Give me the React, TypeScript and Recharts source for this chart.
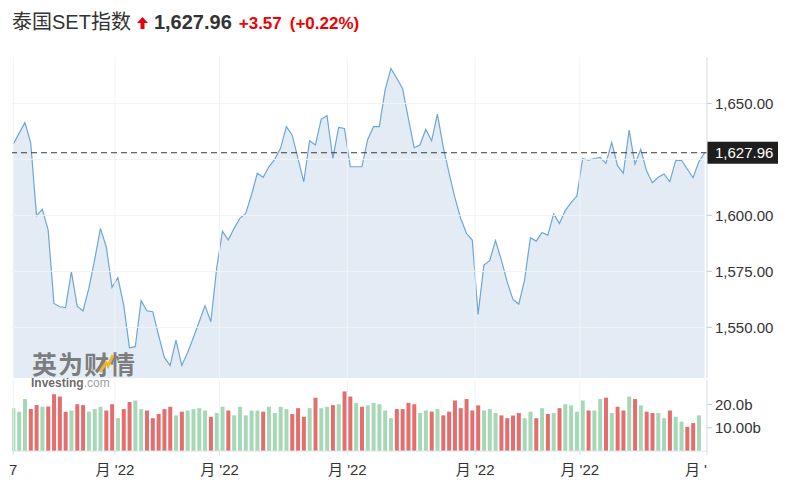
import React from 'react';
import { ComposedChart, Area, XAxis, YAxis, ReferenceLine, BarChart, Bar, Cell } from 'recharts';

const priceValues = [
  1631.8, 1636.6, 1641.4, 1632.4, 1599.9, 1602.7, 1593.5, 1560.7, 1559.2, 1558.8,
  1574.9, 1559.5, 1557.3, 1567.4, 1580.1, 1594.2, 1586.0, 1567.9, 1572.2, 1560.0,
  1540.9, 1541.4, 1561.9, 1557.4, 1557.0, 1546.6, 1536.6, 1533.0, 1544.3, 1533.0,
  1538.7, 1545.5, 1552.5, 1559.7, 1552.5, 1576.3, 1593.0, 1589.0, 1594.2, 1598.7,
  1600.9, 1609.1, 1618.8, 1617.0, 1621.7, 1625.0, 1629.9, 1639.6, 1635.9, 1625.4,
  1615.0, 1633.3, 1631.4, 1643.0, 1644.5, 1625.4, 1639.3, 1638.8, 1621.7, 1621.7,
  1621.7, 1633.9, 1639.6, 1639.6, 1656.0, 1665.6, 1661.2, 1656.7, 1643.3, 1630.2,
  1631.4, 1638.4, 1633.3, 1645.2, 1630.5, 1619.0, 1608.0, 1598.7, 1592.0, 1589.0,
  1555.8, 1577.8, 1579.8, 1588.7, 1580.1, 1570.4, 1562.5, 1560.4, 1571.1, 1590.0,
  1588.5, 1592.4, 1591.2, 1600.6, 1596.4, 1602.1, 1605.7, 1608.6, 1625.4, 1624.7,
  1625.4, 1625.9, 1623.2, 1632.6, 1622.2, 1618.8, 1638.1, 1622.9, 1629.5, 1619.9,
  1614.6, 1617.0, 1618.5, 1615.0, 1624.4, 1624.7, 1620.7, 1616.8, 1624.0, 1627.96,
];

// volume in billions
const volumeValues = [
  18.4, 16.9, 22.3, 18.0, 19.7, 19.0, 19.1, 24.4, 23.4, 16.9,
  17.4, 20.1, 19.7, 16.9, 18.0, 19.0, 17.4, 20.1, 14.1, 18.0,
  21.1, 21.7, 18.0, 17.4, 14.1, 15.9, 18.0, 19.0, 15.3, 16.9,
  17.4, 18.0, 18.4, 17.4, 14.7, 16.3, 19.0, 17.4, 15.3, 19.0,
  15.3, 17.4, 17.4, 16.9, 19.0, 16.3, 19.0, 18.0, 15.9, 18.4,
  14.7, 18.4, 22.9, 18.4, 19.0, 19.7, 20.1, 25.6, 23.4, 20.7,
  19.0, 19.6, 20.7, 20.1, 17.4, 14.1, 18.0, 18.0, 20.7, 20.1,
  16.3, 17.4, 16.9, 18.0, 15.3, 16.9, 21.7, 18.4, 22.3, 17.4,
  19.6, 17.4, 18.0, 16.3, 15.3, 14.1, 15.3, 16.3, 14.1, 16.9,
  14.1, 18.4, 15.9, 16.3, 18.4, 20.1, 19.6, 16.9, 21.7, 17.4,
  17.4, 22.3, 22.9, 16.3, 19.0, 17.4, 23.4, 22.3, 19.6, 16.9,
  16.3, 16.3, 14.1, 17.4, 14.7, 12.6, 10.4, 12.0, 15.3,
];

// 1 = up day (green), 0 = down day (red)
const volumeUp = [
  1, 1, 1, 0, 0, 1, 0, 0, 0, 0,
  1, 0, 0, 1, 1, 1, 0, 0, 1, 0,
  0, 1, 1, 0, 0, 0, 0, 0, 1, 0,
  1, 1, 1, 1, 0, 1, 1, 0, 1, 1,
  1, 1, 1, 0, 1, 1, 1, 1, 0, 0,
  0, 1, 0, 1, 1, 0, 1, 0, 0, 1,
  0, 1, 1, 1, 1, 1, 0, 0, 0, 0,
  1, 1, 0, 1, 0, 0, 0, 0, 0, 0,
  0, 1, 1, 1, 0, 0, 0, 0, 1, 1,
  0, 1, 0, 1, 0, 1, 1, 1, 1, 0,
  1, 1, 0, 1, 0, 0, 1, 0, 1, 0,
  0, 1, 1, 0, 1, 1, 0, 0, 1,
];

const xTicks = [0, 17.5, 35.5, 57.5, 79.5, 97.5, 119.4];
const xTickLabels = ['7', "月 '22", "月 '22", "月 '22", "月 '22", "月 '22", "月 '"];
const xDomain = [-0.22, 119.4];

const priceTicks = [1550, 1575, 1600, 1650];
const priceGrid = [1550, 1575, 1600, 1625, 1650];
const priceDomain = [1527.4, 1670.7];
const lastPrice = 1627.96;

const volumeTicks = [10, 20];
const volumeTickLabels = ['10.00b', '20.0b'];
const volumeDomain = [0, 30.5];

const titleName = '泰国SET指数';
const titlePrice = '1,627.96';
const titleChange = '+3.57';
const titlePct = '(+0.22%)';

const priceData = priceValues.map((p, i) => ({ i, price: p }));
const volumeData = volumeValues.map((v, i) => ({ i, vol: v, up: volumeUp[i] }));

const FONT = '"Liberation Sans", Arial, "Noto Sans CJK SC", sans-serif';
const GRID = '#f1f3f6';
const AXIS = '#dde1e7';
const TXT = '#333333';

const fmtPrice = (v: number) =>
  v.toLocaleString('en-US', { minimumFractionDigits: 2, maximumFractionDigits: 2 });

const PriceTag = (props: any) => {
  const vb = props.viewBox || {};
  const x = vb.x + vb.width;
  const y = vb.y;
  return (
    <g>
      <rect x={x} y={y - 11} width={71} height={22} fill="#1e1e1e" />
      <text x={x + 8} y={y} dy="0.36em" fill="#ffffff" fontSize={15} fontFamily={FONT}>
        {fmtPrice(lastPrice)}
      </text>
    </g>
  );
};

const XTick = (props: any) => {
  const { x, y, payload } = props;
  const idx = xTicks.indexOf(payload.value);
  const last = idx === xTicks.length - 1;
  return (
    <text
      x={last ? x : x}
      y={y}
      dy="0.71em"
      textAnchor={last ? 'end' : 'middle'}
      fill={TXT}
      fontSize={15}
      fontFamily={FONT}
    >
      {xTickLabels[idx]}
    </text>
  );
};

export default function App() {
  return (
    <div style={{ position: 'absolute', left: 0, top: 0, width: 788, height: 493, background: '#fff', fontFamily: FONT }}>
      <div
        style={{
          position: 'absolute',
          left: 12,
          top: 12,
          display: 'flex',
          alignItems: 'baseline',
          whiteSpace: 'nowrap',
          lineHeight: '20px',
        }}
      >
        <span style={{ fontSize: 20, color: TXT }}>{titleName}</span>
        <svg width={11} height={12} viewBox="0 0 11 12" style={{ marginLeft: 6 }}>
          <path d="M5.5 0 L11 6 L7.5 6 L7.5 12 L3.5 12 L3.5 6 L0 6 Z" fill="#e8000b" />
        </svg>
        <span style={{ fontSize: 20, fontWeight: 'bold', color: TXT, marginLeft: 6 }}>{titlePrice}</span>
        <span style={{ fontSize: 17, fontWeight: 'bold', color: '#f00000', marginLeft: 7 }}>{titleChange}</span>
        <span style={{ fontSize: 17, fontWeight: 'bold', color: '#f00000', marginLeft: 8 }}>{titlePct}</span>
      </div>

      <div style={{ position: 'absolute', left: 0, top: 0 }}>
        <ComposedChart width={788} height={380} data={priceData} margin={{ top: 57, right: 0, left: 12, bottom: 2 }}>
          <XAxis
            dataKey="i"
            type="number"
            domain={xDomain}
            allowDataOverflow
            ticks={xTicks}
            height={0}
            tick={false}
            tickLine={false}
            axisLine={{ stroke: '#c8c8c8' }}
          />
          <YAxis
            orientation="right"
            width={81}
            domain={priceDomain}
            allowDataOverflow
            ticks={priceTicks}
            interval={0}
            tickFormatter={fmtPrice}
            tick={{ fill: TXT, fontSize: 15, fontFamily: FONT }}
            tickSize={5}
            tickMargin={3}
            tickLine={{ stroke: '#c8ccd2' }}
            axisLine={{ stroke: AXIS }}
          />
          <Area
            dataKey="price"
            type="linear"
            stroke="#6ea6d6"
            strokeWidth={1.2}
            fill="#e3ecf4"
            fillOpacity={1}
            isAnimationActive={false}
            dot={false}
            activeDot={false}
          />
          {xTicks.map((t) => (
            <ReferenceLine key={'vx' + t} x={t} stroke={GRID} strokeWidth={1} />
          ))}
          {priceGrid.map((t) => (
            <ReferenceLine key={'hy' + t} y={t} stroke={GRID} strokeWidth={1} />
          ))}
          <ReferenceLine
            y={lastPrice}
            stroke="#3a3a3a"
            strokeWidth={1}
            strokeDasharray="6 4"
            label={(p: any) => <PriceTag {...p} />}
          />
        </ComposedChart>
      </div>

      <div style={{ position: 'absolute', left: 32, top: 350, pointerEvents: 'none' }}>
        <div style={{ fontSize: 25, fontWeight: 'bold', color: 'rgba(105,105,105,0.85)', letterSpacing: 1, lineHeight: '26px', fontFamily: '"Noto Sans CJK SC", sans-serif' }}>
          英为财情
        </div>
      </div>
      <svg style={{ position: 'absolute', left: 98, top: 353 }} width={16} height={21}>
        <path d="M2 19 L8 10 L10 13 L15 2" stroke="#f0b429" strokeWidth={3} fill="none" />
      </svg>

      <div style={{ position: 'absolute', left: 0, top: 378 }}>
        <BarChart width={788} height={115} data={volumeData} margin={{ top: 2, right: 0, left: 12, bottom: 0 }}>
          <XAxis
            dataKey="i"
            type="number"
            domain={xDomain}
            allowDataOverflow
            ticks={xTicks}
            interval={0}
            height={42}
            tickSize={4}
            tickMargin={9}
            tick={<XTick />}
            tickLine={{ stroke: AXIS }}
            axisLine={{ stroke: AXIS }}
          />
          <YAxis
            orientation="right"
            width={81}
            domain={volumeDomain}
            allowDataOverflow
            ticks={volumeTicks}
            interval={0}
            tickFormatter={(v: number) => volumeTickLabels[volumeTicks.indexOf(v)]}
            tick={{ fill: TXT, fontSize: 15, fontFamily: FONT }}
            tickSize={5}
            tickMargin={3}
            tickLine={{ stroke: '#c8ccd2' }}
            axisLine={{ stroke: AXIS }}
          />
          {xTicks.map((t) => (
            <ReferenceLine key={'bx' + t} x={t} stroke={GRID} strokeWidth={1} />
          ))}
          <Bar dataKey="vol" barSize={4} isAnimationActive={false}>
            {volumeData.map((d) => (
              <Cell key={d.i} fill={d.up ? '#a6d8b7' : '#e46e6e'} />
            ))}
          </Bar>
        </BarChart>
      </div>

      <div style={{ position: 'absolute', left: 31, top: 377, fontSize: 12, lineHeight: '12px', pointerEvents: 'none', whiteSpace: 'nowrap' }}>
        <span style={{ fontWeight: 'bold', color: 'rgba(80,80,80,0.85)' }}>Investing</span>
        <span style={{ color: 'rgba(140,140,140,0.85)' }}>.com</span>
      </div>
    </div>
  );
}
